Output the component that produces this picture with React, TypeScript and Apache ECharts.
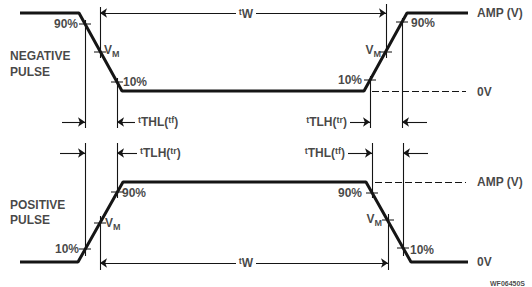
import React, { useEffect, useRef } from "react";
import * as echarts from "echarts";

// Diagram coordinate space: x 0..532, y 0..287 (y grows downward)
const negativePulse = [[20, 13], [79, 13], [122, 91], [364, 91], [407, 13], [468, 13]];
const positivePulse = [[20, 262], [78, 262], [123, 182], [366, 182], [411, 262], [468, 262]];
const negativeCrossings = [[85, 24], [100, 52], [117, 82], [370, 80], [386, 52], [402, 22]];
const positiveCrossings = [[85, 249], [100, 223], [117, 192], [372, 193], [388, 220], [403, 248]];
const guideLines = [
  [[85, 20], [85, 128]], [[100, 7], [100, 58]], [[117, 78], [117, 128]],
  [[370, 76], [370, 128]], [[386, 4], [386, 58]], [[402, 18], [402, 128]],
  [[85, 143], [85, 256]], [[100, 216], [100, 270]], [[117, 143], [117, 198]],
  [[372, 143], [372, 198]], [[388, 214], [388, 270]], [[403, 143], [403, 256]],
];
const arrows = [
  [[236, 13], [100, 13]], [[256, 13], [386, 13]],
  [[62, 122], [85, 122]], [[135, 122], [117, 122]], [[350, 122], [370, 122]], [[427, 122], [402, 122]],
  [[60, 153], [85, 153]], [[137, 153], [117, 153]], [[348, 153], [372, 153]], [[428, 153], [403, 153]],
  [[236, 263], [100, 263]], [[256, 263], [388, 263]],
];
const levelLines = [[[372, 91], [466, 91]], [[375, 182], [466, 182]]];

const VM = "{v|V}{m|M}";
const TW = "{t|t}{n|W}";
const THL = "{t|t}{n|THL(}{t|tf}{n|)}";
const TLH = "{t|t}{n|TLH(}{t|tr}{n|)}";
const labels: [string, number, number, string][] = [
  ["90%", 78, 24, "right"],
  [VM, 104, 51, "left"],
  ["10%", 123, 82, "left"],
  ["NEGATIVE", 10, 56, "left"],
  ["PULSE", 10, 72, "left"],
  [VM, 381, 51, "right"],
  ["10%", 362, 80, "right"],
  ["90%", 411, 23, "left"],
  ["AMP (V)", 477, 13, "left"],
  ["0V", 477, 92, "left"],
  [TW, 246, 14, "center"],
  [THL, 138, 122, "left"],
  [TLH, 347, 122, "right"],
  [TLH, 140, 153, "left"],
  [THL, 345, 153, "right"],
  ["POSITIVE", 10, 205, "left"],
  ["PULSE", 10, 220, "left"],
  ["10%", 79, 249, "right"],
  [VM, 105, 224, "left"],
  ["90%", 122, 193, "left"],
  [VM, 382, 220, "right"],
  ["90%", 362, 193, "right"],
  ["10%", 410, 250, "left"],
  ["AMP (V)", 477, 182, "left"],
  ["0V", 477, 262, "left"],
  [TW, 246, 263, "center"],
  ["{f|WF06450S}", 490, 283, "left"],
];

const INK = "#151515";
const FONT = "'Liberation Sans', Arial, sans-serif";

export default function App() {
  const ref = useRef<HTMLDivElement>(null);
  useEffect(() => {
    if (!ref.current) return;
    const chart = echarts.init(ref.current, null, { renderer: "svg" });
    chart.setOption({
      animation: false,
      backgroundColor: "#ffffff",
      grid: { left: 0, right: 0, top: 0, bottom: 0 },
      xAxis: { type: "value", min: 0, max: 532, show: false },
      yAxis: { type: "value", min: 0, max: 287, inverse: true, show: false },
      series: [
        {
          type: "lines",
          coordinateSystem: "cartesian2d",
          data: guideLines.map((c) => ({ coords: c })),
          lineStyle: { color: INK, width: 1.1, opacity: 1 },
          symbol: "none",
        },
        {
          type: "lines",
          coordinateSystem: "cartesian2d",
          data: arrows.map((c) => ({ coords: c })),
          lineStyle: { color: INK, width: 1.1, opacity: 1 },
          symbol: ["none", "arrow"],
          symbolSize: 7,
        },
        {
          type: "lines",
          coordinateSystem: "cartesian2d",
          data: levelLines.map((c) => ({ coords: c })),
          lineStyle: { color: INK, width: 1.1, opacity: 1, type: [7, 3] },
          symbol: "none",
        },
        {
          type: "line",
          data: negativePulse,
          symbol: "none",
          lineStyle: { color: INK, width: 3 },
        },
        {
          type: "line",
          data: positivePulse,
          symbol: "none",
          lineStyle: { color: INK, width: 3 },
        },
        {
          type: "scatter",
          data: [...negativeCrossings, ...positiveCrossings],
          symbol: "rect",
          symbolSize: [12, 1.3],
          itemStyle: { color: INK },
        },
        {
          type: "scatter",
          symbolSize: 0,
          data: labels.map(([t, x, y, a]) => ({
            name: t,
            value: [x, y],
            label: { align: a },
          })),
          label: {
            show: true,
            position: "inside",
            verticalAlign: "middle",
            formatter: (p: any) => p.name,
            color: INK,
            fontFamily: FONT,
            fontWeight: "bold",
            fontSize: 12,
            rich: {
              v: { fontFamily: FONT, fontWeight: "bold", fontSize: 12, color: INK, verticalAlign: "top", lineHeight: 14 },
              m: { fontFamily: FONT, fontWeight: "bold", fontSize: 9, color: INK, verticalAlign: "bottom", lineHeight: 14, padding: [4, 0, 0, 0] },
              t: { fontFamily: FONT, fontWeight: "bold", fontSize: 9, color: INK, verticalAlign: "top", lineHeight: 14 },
              n: { fontFamily: FONT, fontWeight: "bold", fontSize: 12, color: INK, lineHeight: 14 },
              f: { fontFamily: FONT, fontSize: 7, color: INK },
            },
          },
        },
      ],
    });
    return () => chart.dispose();
  }, []);
  return (
    <div
      ref={ref}
      style={{ position: "fixed", left: 0, top: 0, width: 532, height: 287, background: "#fff" }}
    />
  );
}
